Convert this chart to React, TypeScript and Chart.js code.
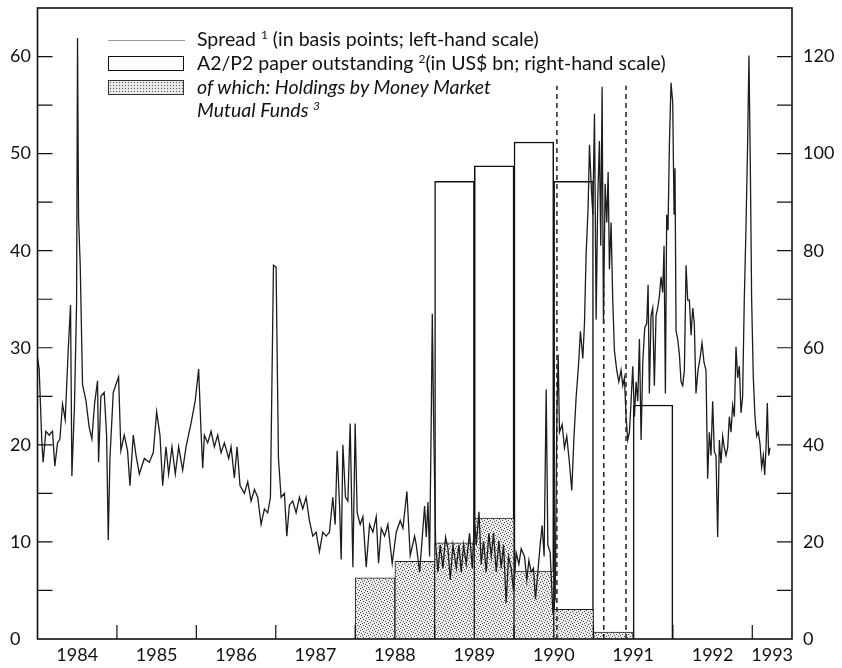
import React, { useEffect, useRef } from "react";
import { Chart, registerables } from "chart.js";

Chart.register(...registerables);

// ---- Spread (basis points, left-hand scale) ----
const spreadDates: number[] = [
  1984.0, 1984.021, 1984.055, 1984.071, 1984.105, 1984.147, 1984.189, 1984.218, 1984.252, 1984.282,
  1984.315, 1984.349, 1984.387, 1984.416, 1984.433, 1984.466, 1984.492, 1984.504, 1984.517, 1984.538,
  1984.567, 1984.609, 1984.651, 1984.685, 1984.718, 1984.756, 1984.769, 1984.798, 1984.84, 1984.87,
  1984.891, 1984.912, 1984.954, 1985.021, 1985.05, 1985.092, 1985.134, 1985.164, 1985.206, 1985.239,
  1985.282, 1985.345, 1985.408, 1985.458, 1985.5, 1985.542, 1985.576, 1985.618, 1985.651, 1985.693,
  1985.735, 1985.777, 1985.828, 1985.87, 1985.933, 1985.987, 1986.029, 1986.059, 1986.08, 1986.101,
  1986.143, 1986.185, 1986.227, 1986.269, 1986.311, 1986.353, 1986.408, 1986.437, 1986.479, 1986.513,
  1986.55, 1986.605, 1986.647, 1986.689, 1986.731, 1986.773, 1986.815, 1986.857, 1986.899, 1986.933,
  1986.971, 1987.004, 1987.034, 1987.067, 1987.109, 1987.139, 1987.172, 1987.214, 1987.256, 1987.298,
  1987.34, 1987.382, 1987.424, 1987.466, 1987.508, 1987.55, 1987.592, 1987.634, 1987.676, 1987.718,
  1987.748, 1987.773, 1987.803, 1987.824, 1987.845, 1987.878, 1987.908, 1987.937, 1987.971, 1988.0,
  1988.025, 1988.063, 1988.097, 1988.139, 1988.181, 1988.223, 1988.265, 1988.294, 1988.328, 1988.37,
  1988.412, 1988.466, 1988.517, 1988.567, 1988.601, 1988.651, 1988.693, 1988.748,
  1988.769, 1988.811, 1988.845, 1988.874, 1988.895, 1988.916, 1988.937, 1988.958, 1988.971, 1988.987,
  1989.013, 1989.042, 1989.071, 1989.105, 1989.138, 1989.168, 1989.197, 1989.231, 1989.273, 1989.306,
  1989.335, 1989.365, 1989.398, 1989.44, 1989.474, 1989.503, 1989.524, 1989.558, 1989.587, 1989.616,
  1989.65, 1989.683, 1989.713, 1989.742, 1989.776, 1989.809, 1989.839, 1989.868, 1989.901, 1989.931,
  1989.964, 1989.994, 1990.027, 1990.061, 1990.09, 1990.132, 1990.161, 1990.187, 1990.216, 1990.245,
  1990.27, 1990.3, 1990.329, 1990.354, 1990.379, 1990.405, 1990.426, 1990.455, 1990.488, 1990.518,
  1990.539, 1990.556, 1990.572, 1990.606, 1990.635, 1990.664, 1990.698, 1990.727, 1990.753, 1990.782,
  1990.811, 1990.836, 1990.866, 1990.887, 1990.908, 1990.933, 1990.95, 1990.971, 1990.992, 1991.013,
  1991.034, 1991.054, 1991.075, 1991.092, 1991.109, 1991.126, 1991.147, 1991.168, 1991.185, 1991.201,
  1991.222, 1991.243, 1991.264, 1991.293, 1991.319, 1991.348, 1991.369, 1991.39, 1991.411, 1991.432,
  1991.453, 1991.474, 1991.495, 1991.516, 1991.537, 1991.558, 1991.579, 1991.6, 1991.621, 1991.646,
  1991.671, 1991.688, 1991.704, 1991.725, 1991.746, 1991.767, 1991.788, 1991.809, 1991.83, 1991.851,
  1991.872, 1991.889, 1991.906, 1991.922, 1991.939, 1991.956, 1991.977, 1991.998, 1992.015, 1992.027,
  1992.04, 1992.061, 1992.082, 1992.103, 1992.124, 1992.145, 1992.166, 1992.187, 1992.208, 1992.229,
  1992.25, 1992.27, 1992.291, 1992.317, 1992.342, 1992.367, 1992.392, 1992.417, 1992.438, 1992.459,
  1992.48, 1992.501, 1992.522, 1992.543, 1992.564, 1992.585, 1992.606, 1992.627, 1992.648, 1992.669,
  1992.69, 1992.711, 1992.732, 1992.753, 1992.774, 1992.795, 1992.816, 1992.837, 1992.858, 1992.878,
  1992.899, 1992.92, 1992.941, 1992.958, 1992.975, 1992.992, 1993.013, 1993.034, 1993.055, 1993.076,
  1993.097, 1993.118, 1993.139, 1993.156, 1993.173, 1993.189, 1993.206, 1993.223,
];

const spreadValues: number[] = [
  29, 27.8, 20.2, 18.2, 21.4, 21, 21.4, 17.8, 20.2, 20.6,
  24.2, 22.6, 29.8, 34.4, 16.8, 24.2, 34.6, 61.9, 43.3, 38.5,
  26.2, 24.6, 21.8, 20.6, 24.2, 26.6, 18.2, 25, 25.4, 21,
  10.2, 18.6, 25.4, 27, 19.4, 21, 19.4, 15.8, 21, 19,
  17, 18.6, 18.2, 19.2, 23.4, 21, 15.8, 19.8, 17, 19.8,
  17, 19.8, 17.4, 19.8, 22.2, 24.6, 27.8, 21.4, 17.6, 21,
  20.2, 21.4, 19.8, 21, 19.2, 20.2, 18.6, 19.8, 16.6, 19.8,
  15.8, 15, 16.2, 14.2, 15.4, 14.6, 11.8, 13.4, 13, 14.6,
  38.5, 38.3, 18.6, 14.6, 15, 10.6, 13.8, 14.2, 13, 14.6,
  13.4, 14.6, 12.2, 10.6, 11, 9, 11, 10.6, 11, 14.6,
  11.8, 19.4, 13.8, 8.2, 20, 14.6, 14.2, 22.2, 7.4, 22.2,
  13, 11.8, 12.6, 7.4, 11.8, 11, 12.6, 7.8, 11.4, 10.6,
  11.8, 7.8, 11, 12.2, 11.4, 15.2, 8.6, 10.6,
  9.7, 6.9, 10.5, 13.7, 10.5, 14.1, 8.5, 22.9, 33.5, 22.9,
  9.7, 6.9, 9.7, 7.3, 10.5, 9.3, 6.1, 9.7, 7.3, 9.7,
  6.9, 9.7, 7.7, 10.9, 7.3, 12.5, 9.7, 13.1, 7.7, 10.1,
  6.9, 10.9, 8.5, 10.9, 6.9, 10.1, 7.3, 9.7, 3.7, 8.5,
  7.3, 4.9, 8.9, 7.7, 9.3, 8.5, 6.1, 8.1, 6.9, 7.3,
  4.1, 6.9, 9.7, 11.7, 8.5, 25.7, 9.7, 8.9, 2.9, 4.1,
  22.9, 29.3, 21.3, 22.1, 19.7, 20.9, 18.1, 15.3, 20.5, 24.9,
  28.1, 31.7, 28.9, 32.5, 39.7, 44.5, 50.9, 46.9, 43.7, 54.1,
  32.9, 45.3, 51.3, 40.5, 56.9, 32.5, 46.9, 42.9, 48.1, 38.1,
  42.9, 34.9, 29.7, 27.7, 26.5, 27.7, 26.1, 26.9, 22.9, 20.5,
  21.3, 24.5, 28.1, 22.9, 26.5, 24.5, 30.9, 20.5, 28.5, 32.1,
  32.5, 36.5, 25.3, 33.3, 34.1, 26.1, 33.3, 34.1, 35.3, 37.3,
  35.7, 40.5, 25.3, 43.7, 42.1, 50.9, 57.3, 55.3, 43.7, 48.5,
  31.7, 30.9, 29.3, 26.5, 26.1, 27.7, 38.5, 34.9, 34.9, 31.3,
  34.1, 32.5, 25.3, 27.7, 28.9, 30.5, 28.5, 27.7, 16.5, 21.3,
  18.9, 24.5, 19.3, 18.9, 10.5, 20.5, 18.1, 20.9, 19.7, 18.9,
  19.7, 22.9, 21.3, 24.1, 22.9, 30.1, 26.9, 28.1, 23.3, 24.9,
  34.9, 42.1, 50.9, 60.1, 48.9, 34.9, 26.9, 22.9, 20.9, 21.3,
  20.1, 17.7, 18.9, 16.9, 19.7, 24.3, 18.9, 19.7,
];

// ---- Half-yearly paper (US$ bn, right-hand scale) ----
const periodMidpoints: number[] = [1988.25, 1988.75, 1989.25, 1989.75, 1990.25, 1990.75, 1991.25, 1991.75];
const paperOutstanding: (number | null)[] = [null, null, 94.3, 97.5, 102.4, 94.3, null, 48.2];
const mmfHoldings: (number | null)[] = [12.6, 16.0, 19.8, 24.9, 14.0, 6.1, 1.4, null];

// ---- Dashed markers (decimal year, left-hand scale top) ----
const markerDates: number[] = [1990.54, 1991.13, 1991.41];
const markerTops: number[] = [57, 37, 57];

// ---- Axis ticks ----
const leftTickLabels: number[] = [0, 10, 20, 30, 40, 50, 60];
const leftMinorTicks: number[] = [5, 10, 15, 20, 25, 30, 35, 40, 45, 50, 55, 60];
const rightTickLabels: number[] = [0, 20, 40, 60, 80, 100, 120];
const rightMinorTicks: number[] = [10, 20, 30, 40, 50, 60, 70, 80, 90, 100, 110, 120];
const yearLabelPositions: number[] = [1984.5, 1985.5, 1986.5, 1987.5, 1988.5, 1989.5, 1990.5, 1991.5, 1992.5, 1993.25];
const yearBoundaries: number[] = [1985, 1986, 1987, 1988, 1989, 1990, 1991, 1992, 1993];

const FONT = "Lato, 'Open Sans', sans-serif";

const framePlugin = {
  id: "frameAndTicks",
  afterDatasetsDraw(chart: any) {
    const { ctx, chartArea: a, scales } = chart;
    ctx.save();
    ctx.strokeStyle = "#111";
    ctx.lineWidth = 1.2;
    ctx.beginPath();
    leftMinorTicks.forEach((v) => {
      const y = scales.y.getPixelForValue(v);
      ctx.moveTo(a.left, y);
      ctx.lineTo(a.left + 15, y);
    });
    rightMinorTicks.forEach((v) => {
      const y = scales.y1.getPixelForValue(v);
      ctx.moveTo(a.right, y);
      ctx.lineTo(a.right - 15, y);
    });
    yearBoundaries.forEach((v) => {
      const x = scales.x.getPixelForValue(v);
      ctx.moveTo(x, a.bottom);
      ctx.lineTo(x, a.bottom - 14);
    });
    ctx.stroke();
    ctx.lineWidth = 1.6;
    ctx.strokeRect(a.left, a.top, a.right - a.left, a.bottom - a.top);
    ctx.restore();
  },
};

function makePattern(ctx: CanvasRenderingContext2D) {
  const pc = document.createElement("canvas");
  pc.width = 6;
  pc.height = 6;
  const p = pc.getContext("2d")!;
  p.fillStyle = "#ececec";
  p.fillRect(0, 0, 6, 6);
  p.fillStyle = "#4a4a4a";
  [[0, 0], [3, 1], [1, 3], [4, 4], [2, 5], [5, 2]].forEach(([x, y]) => p.fillRect(x, y, 1, 1));
  return ctx.createPattern(pc, "repeat");
}

export default function App() {
  const ref = useRef<HTMLCanvasElement>(null);

  useEffect(() => {
    const canvas = ref.current!;
    const ctx = canvas.getContext("2d")!;
    const pattern = makePattern(ctx);

    const markerSets = markerDates.map((d, i) => ({
      type: "line" as const,
      data: [
        { x: d, y: 0 },
        { x: d, y: markerTops[i] },
      ],
      yAxisID: "y",
      borderColor: "#222",
      borderWidth: 1.5,
      borderDash: [5, 4],
      pointRadius: 0,
      order: 0,
    }));

    const chart = new Chart(canvas, {
      type: "bar",
      data: {
        datasets: [
          {
            type: "line",
            label: "Spread",
            data: spreadDates.map((d, i) => ({ x: d, y: spreadValues[i] })),
            yAxisID: "y",
            borderColor: "#1c1c1c",
            borderWidth: 1.3,
            pointRadius: 0,
            tension: 0,
            order: 1,
          } as any,
          ...markerSets,
          {
            type: "bar",
            label: "Holdings",
            data: periodMidpoints.map((d, i) => ({ x: d, y: mmfHoldings[i] })),
            yAxisID: "y1",
            backgroundColor: pattern as any,
            borderColor: "#222",
            borderWidth: 1,
            barPercentage: 1,
            categoryPercentage: 1,
            grouped: false,
            order: 2,
          } as any,
          {
            type: "bar",
            label: "Outstanding",
            data: periodMidpoints.map((d, i) => ({ x: d, y: paperOutstanding[i] })),
            yAxisID: "y1",
            backgroundColor: "#ffffff",
            borderColor: "#111",
            borderWidth: 1.5,
            barPercentage: 1,
            categoryPercentage: 1,
            grouped: false,
            order: 3,
          } as any,
        ],
      },
      options: {
        animation: false,
        responsive: false,
        layout: { padding: { top: 8, left: 10, right: 0, bottom: 0 } },
        plugins: { legend: { display: false }, tooltip: { enabled: false } },
        scales: {
          x: {
            type: "linear",
            min: 1984,
            max: 1993.5,
            offset: false,
            grid: { display: false, drawTicks: false },
            border: { display: false },
            afterBuildTicks: (s: any) => {
              s.ticks = yearLabelPositions.map((v) => ({ value: v }));
            },
            afterFit: (s: any) => {
              s.height = 29;
              s.paddingLeft = 0;
              s.paddingRight = 0;
            },
            ticks: {
              autoSkip: false,
              maxRotation: 0,
              padding: 5,
              color: "#111",
              font: { family: FONT, size: 18 },
              callback: (v: any) => String(Math.floor(Number(v))),
            },
          },
          y: {
            type: "linear",
            position: "left",
            min: 0,
            max: 65,
            grid: { display: false, drawTicks: false },
            border: { display: false },
            afterBuildTicks: (s: any) => {
              s.ticks = leftTickLabels.map((v) => ({ value: v }));
            },
            afterFit: (s: any) => {
              s.width = 27.5;
              s.paddingTop = 0;
              s.paddingBottom = 0;
            },
            ticks: {
              crossAlign: "far",
              padding: 0,
              color: "#111",
              font: { family: FONT, size: 18 },
            },
          },
          y1: {
            type: "linear",
            position: "right",
            min: 0,
            max: 130,
            grid: { display: false, drawTicks: false },
            border: { display: false },
            afterBuildTicks: (s: any) => {
              s.ticks = rightTickLabels.map((v) => ({ value: v }));
            },
            afterFit: (s: any) => {
              s.width = 50;
              s.paddingTop = 0;
              s.paddingBottom = 0;
            },
            ticks: {
              padding: 11,
              color: "#111",
              font: { family: FONT, size: 18 },
            },
          },
        },
      },
      plugins: [framePlugin],
    });
    return () => chart.destroy();
  }, []);

  const textRow = (top: number, content: React.ReactNode, italic = false) => (
    <div
      style={{
        position: "absolute",
        left: 197,
        top,
        lineHeight: "22px",
        whiteSpace: "nowrap",
        fontStyle: italic ? "italic" : "normal",
      }}
    >
      {content}
    </div>
  );
  const sup: React.CSSProperties = { fontSize: 12, verticalAlign: "top", position: "relative", top: -4 };

  return (
    <div style={{ position: "fixed", left: 0, top: 0, width: 842, height: 668, background: "#fff", overflow: "hidden" }}>
      <canvas ref={ref} width={842} height={668} style={{ position: "absolute", left: 0, top: 0 }} />
      <div style={{ position: "absolute", left: 0, top: 0, width: 842, height: 668, fontFamily: FONT, fontSize: 19.5, color: "#111", pointerEvents: "none" }}>
        <div style={{ position: "absolute", left: 108, top: 40, width: 77, borderTop: "1.5px solid #9a9a9a" }} />
        <div style={{ position: "absolute", left: 108, top: 56, width: 74, height: 13, border: "1.5px solid #111", background: "#fff" }} />
        <div
          style={{
            position: "absolute",
            left: 108,
            top: 80,
            width: 74,
            height: 13,
            border: "1px solid #333",
            background: "radial-gradient(#555 0.7px, transparent 0.9px) 0 0 / 3px 3px, #e8e8e8",
          }}
        />
        {textRow(28, <>Spread <span style={sup}>1</span> (in basis points; left-hand scale)</>)}
        {textRow(52, <>A2/P2 paper outstanding <span style={sup}>2</span>(in US$ bn; right-hand scale)</>)}
        {textRow(76, <>of which: Holdings by Money Market</>, true)}
        {textRow(99, <>Mutual Funds <span style={sup}>3</span></>, true)}
      </div>
    </div>
  );
}
